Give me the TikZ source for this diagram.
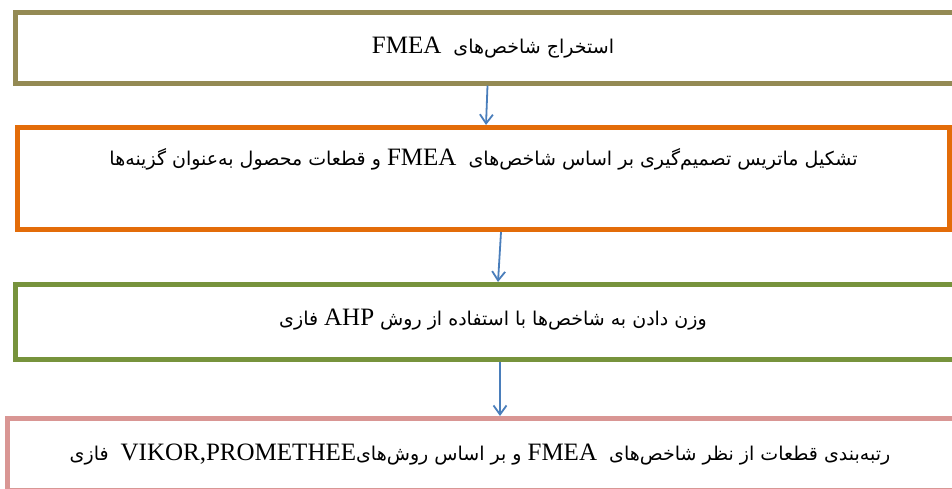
\documentclass[tikz,border=0pt]{standalone}
\usepackage{fontspec}
\setmainfont{Liberation Serif}
\newfontfamily\farsifont[Script=Arabic]{DejaVu Sans}
\TeXXeTstate=1
\usetikzlibrary{arrows.meta}
\definecolor{stageolive}{HTML}{948A54}
\definecolor{stageorange}{HTML}{E36C09}
\definecolor{stagegreen}{HTML}{77933C}
\definecolor{stagepink}{HTML}{D99694}
\definecolor{flowblue}{HTML}{4A7EBB}
\newcommand{\lat}[1]{\beginL{\rmfamily\fontsize{25}{30}\selectfont #1}\endL}

\begin{document}
\begin{tikzpicture}[
  x=1pt, y=-1pt,
  stage/.style={rectangle, draw, line width=5pt, inner sep=0pt},
  steptext/.style={inner sep=0pt, anchor=base, font=\farsifont\fontsize{19}{23}\selectfont},
  arr/.style={-{Straight Barb[length=9pt,width=13pt]}, flowblue, line width=1.8pt}
]
\useasboundingbox (0,0) rectangle (952,488);
\clip (0,0) rectangle (952,488);

% Four stages, top to bottom
\node[stage, draw=stageolive,  minimum width=960pt, minimum height=70.5pt] (s1) at (495.5,47.75) {};
\node[stage, draw=stageorange, minimum width=932pt, minimum height=102pt]  (s2) at (483.5,178.5) {};
\node[stage, draw=stagegreen,  minimum width=960pt, minimum height=75pt]   (s3) at (495.5,322) {};
\node[stage, draw=stagepink,   minimum width=968pt, minimum height=71.5pt] (s4) at (491.5,454.25) {};

\node[steptext] (t1) at (493,53)  {\beginR استخراج شاخص^^^^200cهای \ \lat{FMEA}\endR};
\node[steptext] (t2) at (483.5,165) {\beginR تشکیل ماتریس تصمیم^^^^200cگیری بر اساس شاخص^^^^200cهای \ \lat{FMEA} و قطعات محصول به^^^^200cعنوان گزینه^^^^200cها\endR};
\node[steptext] (t3) at (493,325) {\beginR وزن دادن به شاخص^^^^200cها با استفاده از روش \lat{AHP} فازی\endR};
\node[steptext] (t4) at (480,460) {\beginR رتبه^^^^200cبندی قطعات از نظر شاخص^^^^200cهای \ \lat{FMEA} و بر اساس روش^^^^200cهای\lat{VIKOR,PROMETHEE} \ فازی\endR};

% Connectors
\draw[arr] ([xshift=-8pt]s1.south) -- ([xshift=2.5pt]s2.north);
\draw[arr] ([xshift=17.5pt]s2.south) -- ([xshift=2.5pt]s3.north);
\draw[arr] ([xshift=4.5pt]s3.south) -- ([xshift=8.5pt]s4.north);

\end{tikzpicture}
\end{document}
